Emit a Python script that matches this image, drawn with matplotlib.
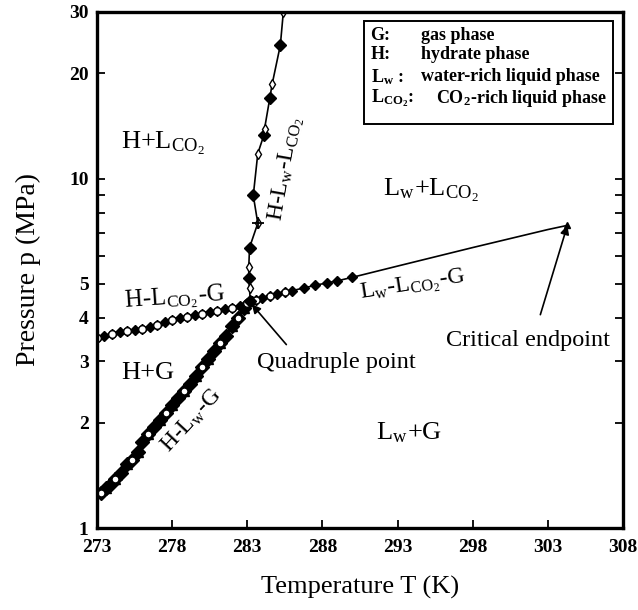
import matplotlib
matplotlib.use("Agg")
import matplotlib.pyplot as plt
from matplotlib.patches import Rectangle

plt.rcParams["font.family"] = ["Liberation Serif", "DejaVu Serif"]
plt.rcParams["mathtext.fontset"] = "stix"

# ---- phase boundary data: temperature (K), pressure (MPa) ----
# H-Lw-G three-phase line
hlwg_T = [273.3, 273.6, 273.9, 274.2, 274.6, 275.0, 275.3, 275.7, 276.0, 276.4, 276.8, 277.2, 277.6,
          278.0, 278.4, 278.8, 279.2, 279.6, 280.0, 280.4, 280.8, 281.2, 281.6, 282.0, 282.4, 282.8]
hlwg_p = [1.26, 1.30, 1.34, 1.38, 1.44, 1.52, 1.57, 1.65, 1.76, 1.86, 1.95, 2.04, 2.14,
          2.25, 2.35, 2.47, 2.59, 2.72, 2.89, 3.04, 3.21, 3.38, 3.55, 3.78, 4.00, 4.25]

# H-LCO2-G three-phase line
hlcg_T = [273.0, 273.5, 274.0, 274.5, 275.0, 275.5, 276.0, 276.5, 277.0, 277.5, 278.0,
          278.5, 279.0, 279.5, 280.0, 280.5, 281.0, 281.5, 282.0, 282.5, 283.0]
hlcg_p = [3.50, 3.55, 3.60, 3.63, 3.66, 3.69, 3.72, 3.76, 3.82, 3.88, 3.95,
          3.99, 4.03, 4.07, 4.11, 4.15, 4.19, 4.23, 4.27, 4.33, 4.40]

# Lw-LCO2-G three-phase line, ending at the critical endpoint
lwlcg_T = [283.3, 283.6, 284.0, 284.5, 285.0, 285.5, 286.0, 286.8, 287.5, 288.3, 289.0, 290.0,
           293.0, 298.0, 303.0, 304.3]
lwlcg_p = [4.46, 4.50, 4.55, 4.62, 4.68, 4.73, 4.78, 4.87, 4.95, 5.03, 5.10, 5.22,
           5.62, 6.35, 7.15, 7.35]
n_lwlcg_meas = 12

# H-Lw-LCO2 three-phase line
hlwl_T = [283.2, 283.15, 283.1, 283.1, 283.15, 283.7, 283.4, 283.7, 284.1, 284.15, 284.5, 284.65, 285.2, 285.4]
hlwl_p = [4.45, 4.85, 5.18, 5.57, 6.35, 7.45, 8.95, 11.8, 13.3, 13.9, 17.0, 18.6, 24.1, 30.0]

critical_T, critical_p = 304.3, 7.35
quad_T, quad_p = 283.2, 4.45

x_ticks = [273, 278, 283, 288, 293, 298, 303, 308]
y_ticks = [1, 2, 3, 4, 5, 10, 20, 30]

fig = plt.figure(figsize=(6.38, 6.10), dpi=100)
ax = fig.add_axes([0.152, 0.1344, 0.8245, 0.846])
ax.set_yscale("log")
ax.set_xlim(273, 308)
ax.set_ylim(1, 30)

lw = 1.2
# boundary lines
ax.plot(hlwg_T + [quad_T], hlwg_p + [quad_p], color="black", lw=lw)
ax.plot(hlcg_T + [quad_T], hlcg_p + [quad_p], color="black", lw=lw)
ax.plot([quad_T] + lwlcg_T, [quad_p] + lwlcg_p, color="black", lw=lw)
ax.plot(hlwl_T, hlwl_p, color="black", lw=lw)

# measured points, several data sets with different symbols
ax.plot(hlwg_T, hlwg_p, ls="none", marker="D", ms=7, mfc="black", mec="black")
ax.plot(hlwg_T[1::2], hlwg_p[1::2], ls="none", marker="^", ms=7, mfc="black", mec="black")
ax.plot(hlwg_T[::3], hlwg_p[::3], ls="none", marker="o", ms=5, mfc="white", mec="black", mew=1.0)

ax.plot(hlcg_T, hlcg_p, ls="none", marker="D", ms=5, mfc="black", mec="black")
ax.plot(hlcg_T[::2], hlcg_p[::2], ls="none", marker="o", ms=5.5, mfc="white", mec="black", mew=1.0)

mT, mp = lwlcg_T[:n_lwlcg_meas], lwlcg_p[:n_lwlcg_meas]
ax.plot(mT, mp, ls="none", marker="D", ms=5, mfc="black", mec="black")
ax.plot(mT[1:7:2], mp[1:7:2], ls="none", marker="o", ms=5, mfc="white", mec="black", mew=0.9)
ax.plot([critical_T], [critical_p], ls="none", marker="^", ms=5, mfc="black", mec="black")

ax.plot(hlwl_T[::2], hlwl_p[::2], ls="none", marker="D", ms=6, mfc="black", mec="black")
ax.plot(hlwl_T[1::2], hlwl_p[1::2], ls="none", marker="d", ms=5, mfc="white", mec="black", mew=1.0)
ax.plot([hlwl_T[5]], [hlwl_p[5]], ls="none", marker="+", ms=8, mec="black", mew=1.3)

# axes styling
ax.set_xticks(x_ticks)
ax.set_xticklabels([str(t) for t in x_ticks], fontsize=14, fontweight="bold")
ax.set_yticks(y_ticks)
ax.set_yticklabels([str(t) for t in y_ticks], fontsize=14, fontweight="bold")
ax.set_yticks([6, 7, 8, 9], minor=True)
ax.set_yticklabels([], minor=True)
ax.tick_params(which="both", direction="in", length=6, width=1.3, top=False, right=True)
ax.tick_params(axis="x", pad=8)
ax.tick_params(axis="y", pad=6)
for s in ax.spines.values():
    s.set_linewidth(2.4)

ax.set_xlabel("Temperature T (K)", fontsize=19, labelpad=14)
ax.set_ylabel("Pressure p (MPa)", fontsize=20, labelpad=20)

# region labels
fs = 19
ax.text(277.4, 12.6, r"H+L$_{\mathregular{CO_2}}$", fontsize=fs, ha="center", va="center")
ax.text(295.2, 9.25, r"L$_{\mathregular{w}}$+L$_{\mathregular{CO_2}}$", fontsize=fs, ha="center", va="center")
ax.text(276.4, 2.77, "H+G", fontsize=fs, ha="center", va="center")
ax.text(293.8, 1.87, r"L$_{\mathregular{w}}$+G", fontsize=fs, ha="center", va="center")

# boundary labels
ax.text(278.2, 4.55, r"H-L$_{\mathregular{CO_2}}$-G", fontsize=18, ha="center", va="center", rotation=4)
ax.text(294.0, 4.95, r"L$_{\mathregular{w}}$-L$_{\mathregular{CO_2}}$-G", fontsize=17, ha="center", va="center", rotation=9)
ax.text(279.3, 2.03, r"H-L$_{\mathregular{w}}$-G", fontsize=17, ha="center", va="center", rotation=47)
ax.text(285.6, 10.7, r"H-L$_{\mathregular{w}}$-L$_{\mathregular{CO_2}}$", fontsize=17, ha="center", va="center", rotation=80)

# annotated points
ax.text(301.7, 3.45, "Critical endpoint", fontsize=17.5, ha="center", va="center")
ax.annotate("", xy=(critical_T, critical_p), xytext=(302.5, 4.08),
            arrowprops=dict(arrowstyle="-|>", color="black", lw=1.2, shrinkA=0, shrinkB=0,
                            mutation_scale=13))
ax.text(288.9, 2.97, "Quadruple point", fontsize=17.5, ha="center", va="center")
ax.annotate("", xy=(quad_T + 0.1, quad_p - 0.08), xytext=(285.6, 3.35),
            arrowprops=dict(arrowstyle="-|>", color="black", lw=1.2, shrinkA=0, shrinkB=0,
                            mutation_scale=13))

# key box for phase symbols
box_x0, box_y0, box_x1, box_y1 = 0.508, 0.783, 0.981, 0.983
ax.add_patch(Rectangle((box_x0, box_y0), box_x1 - box_x0, box_y1 - box_y0,
                       transform=ax.transAxes, fill=False, lw=1.4, ec="black"))
key_syms = ["G:", "H:", r"L$_{\mathregular{w}}$ :", r"L$_{\mathregular{CO_2}}$:"]
key_desc = ["gas phase", "hydrate phase", "water-rich liquid phase", r"CO$_{\mathregular{2}}$-rich liquid phase"]
key_desc_x = [0.616, 0.616, 0.616, 0.644]
key_y = [0.955, 0.917, 0.874, 0.833]
for sym, desc, dx, yy in zip(key_syms, key_desc, key_desc_x, key_y):
    ax.text(0.520, yy, sym, transform=ax.transAxes, fontsize=13, fontweight="bold", va="center")
    ax.text(dx, yy, desc, transform=ax.transAxes, fontsize=13, fontweight="bold", va="center")

fig.savefig("out.png", dpi=100)
